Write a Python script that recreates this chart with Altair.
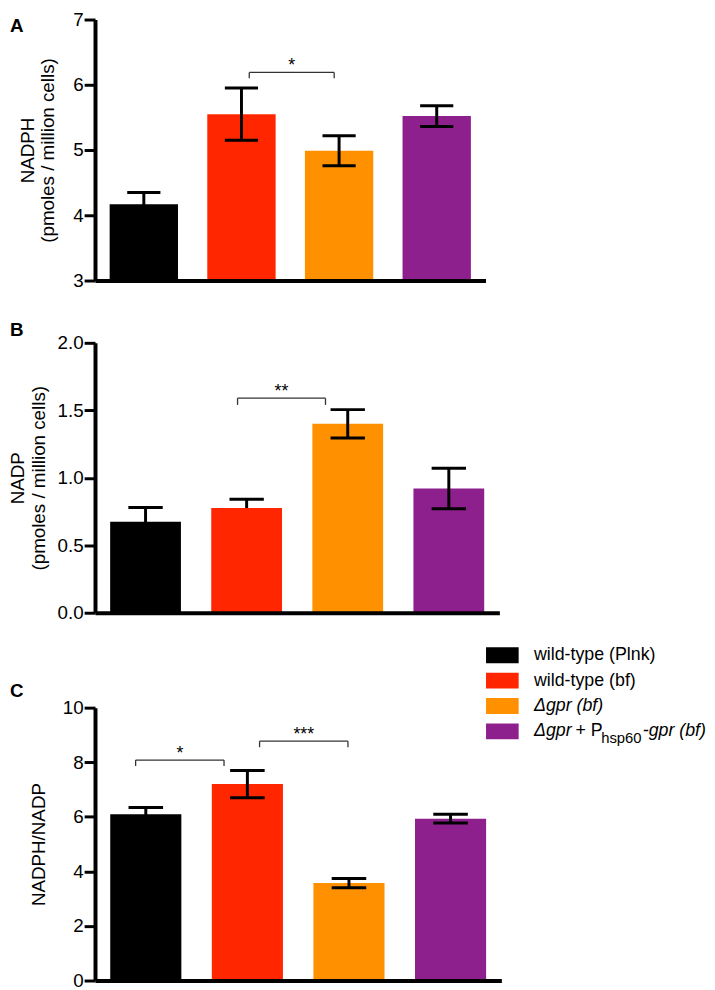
import altair as alt
import pandas as pd

FONT = "Liberation Sans"

groups = ["wild-type (Plnk)", "wild-type (bf)", "Δgpr (bf)", "Δgpr + Phsp60-gpr (bf)"]
bar_colors = ["#000000", "#FF2600", "#FF9100", "#8E208E"]

# Panel A - NADPH
nadph_mean = [4.17, 5.55, 4.99, 5.52]
nadph_err_up = [0.18, 0.40, 0.23, 0.16]
nadph_err_low = [0.18, 0.40, 0.23, 0.16]
nadph_ticks = [3, 4, 5, 6, 7]

# Panel B - NADP
nadp_mean = [0.675, 0.776, 1.40, 0.92]
nadp_err_up = [0.105, 0.065, 0.105, 0.15]
nadp_err_low = [0.105, 0.0, 0.105, 0.15]
nadp_ticks = [0.0, 0.5, 1.0, 1.5, 2.0]

# Panel C - NADPH/NADP
ratio_mean = [6.09, 7.20, 3.57, 5.93]
ratio_err_up = [0.25, 0.50, 0.17, 0.16]
ratio_err_low = [0.25, 0.50, 0.17, 0.16]
ratio_ticks = [0, 2, 4, 6, 8, 10]

# significance brackets (x in group-index units, y in data units)
a_br_start = [1.08]
a_br_end = [1.95]
a_br_top = [6.19]
a_br_tip = [6.10]
a_br_label = ["*"]

b_br_start = [0.91]
b_br_end = [1.78]
b_br_top = [1.59]
b_br_tip = [1.54]
b_br_label = ["**"]

c_br_start = [-0.10, 1.12]
c_br_end = [0.77, 1.99]
c_br_top = [8.08, 8.77]
c_br_tip = [7.86, 8.55]
c_br_label = ["*", "***"]

legend_plain = ["wild-type (Plnk)", "wild-type (bf)"]
legend_italic = ["Δgpr (bf)"]
legend_row4 = ["Δgpr", "+ P", "hsp60", "-gpr (bf)"]

LABEL_SIZE = 19
TITLE_SIZE = 19


def panel(means, up, low, ticks, fmt, title, title_pad, br, letter, letter_y):
    df = pd.DataFrame({"idx": list(range(4)), "group": groups,
                       "mean": means, "up": up, "low": low})
    xscale = alt.Scale(domain=[-0.5, 3.5], nice=False, zero=False)
    xaxis = alt.Axis(labels=False, ticks=False, grid=False, title=None,
                     domainColor="black", domainWidth=4, zindex=1)
    yscale = alt.Scale(domain=[ticks[0], ticks[-1]], nice=False, zero=False)
    yaxis = alt.Axis(values=ticks, format=fmt, title=title, titleFont=FONT,
                     titleFontSize=TITLE_SIZE, titleFontWeight="normal", titleColor="black",
                     titlePadding=title_pad, titleLineHeight=21,
                     labelFont=FONT, labelFontSize=LABEL_SIZE, labelColor="black",
                     labelPadding=1, tickSize=11, tickWidth=3, tickColor="black",
                     domainColor="black", domainWidth=4, grid=False, zindex=1)

    def X(f):
        return alt.X(f, scale=xscale, axis=xaxis)

    def Y(f):
        return alt.Y(f, scale=yscale, axis=yaxis)

    base = alt.Chart(df).transform_calculate(
        bx1="datum.idx - 0.35", bx2="datum.idx + 0.35",
        cx1="datum.idx - 0.17", cx2="datum.idx + 0.17",
        hi="datum.mean + datum.up", lo="datum.mean - datum.low",
        floor=str(ticks[0]),
    )
    bars = base.mark_bar().encode(
        x=X("bx1:Q"), x2="bx2:Q", y=Y("mean:Q"), y2="floor:Q",
        color=alt.Color("group:N", scale=alt.Scale(domain=groups, range=bar_colors), legend=None),
    )
    stem = base.mark_rule(color="black", strokeWidth=3).encode(
        x=X("idx:Q"), y=Y("lo:Q"), y2="hi:Q")
    cap_hi = base.mark_rule(color="black", strokeWidth=3).encode(
        x=X("cx1:Q"), x2="cx2:Q", y=Y("hi:Q"))
    cap_lo = base.transform_filter("datum.low > 0").mark_rule(color="black", strokeWidth=3).encode(
        x=X("cx1:Q"), x2="cx2:Q", y=Y("lo:Q"))

    bdf = pd.DataFrame({"start": br[0], "end": br[1], "top": br[2], "tip": br[3], "label": br[4]})
    bbase = alt.Chart(bdf).transform_calculate(mid="(datum.start + datum.end) / 2")
    bcol = "#333333"
    b_h = bbase.mark_rule(color=bcol, strokeWidth=1.3).encode(x=X("start:Q"), x2="end:Q", y=Y("top:Q"))
    b_l = bbase.mark_rule(color=bcol, strokeWidth=1.3).encode(x=X("start:Q"), y=Y("tip:Q"), y2="top:Q")
    b_r = bbase.mark_rule(color=bcol, strokeWidth=1.3).encode(x=X("end:Q"), y=Y("tip:Q"), y2="top:Q")
    b_t = bbase.mark_text(font=FONT, fontSize=18, color="black", baseline="alphabetic", dy=-1).encode(
        x=X("mid:Q"), y=Y("top:Q"), text="label:N")

    let = alt.Chart(pd.DataFrame({"letter": [letter]})).mark_text(
        font=FONT, fontSize=19, fontWeight="bold", align="left", baseline="alphabetic", color="black"
    ).encode(text="letter:N", x=alt.value(-86), y=alt.value(letter_y))

    return alt.layer(bars, stem, cap_hi, cap_lo, b_h, b_l, b_r, b_t, let)


A = panel(nadph_mean, nadph_err_up, nadph_err_low, nadph_ticks, "d",
          ["NADPH", "(pmoles / million cells)"], 15,
          (a_br_start, a_br_end, a_br_top, a_br_tip, a_br_label), "A", 13).properties(width=395, height=264)

B = panel(nadp_mean, nadp_err_up, nadp_err_low, nadp_ticks, ".1f",
          ["NADP", "(pmoles / million cells)"], 9,
          (b_br_start, b_br_end, b_br_top, b_br_tip, b_br_label), "B", -7).properties(width=409, height=273)

C_data = panel(ratio_mean, ratio_err_up, ratio_err_low, ratio_ticks, "d",
               "NADPH/NADP", 14,
               (c_br_start, c_br_end, c_br_top, c_br_tip, c_br_label), "C", -11)

# legend (drawn inside panel C's area)
leg_y = alt.Y("row:O", scale=alt.Scale(type="point", domain=[0, 1, 2, 3], range=[-53, 24], padding=0), axis=None)
leg_df = pd.DataFrame({"row": [0, 1, 2, 3], "group": groups})
swatch = alt.Chart(leg_df).mark_tick(orient="horizontal", thickness=16, size=33, opacity=1).encode(
    y=leg_y, x=alt.value(412),
    color=alt.Color("group:N", scale=alt.Scale(domain=groups, range=bar_colors), legend=None))

plain_df = pd.DataFrame({"row": [0, 1], "label": legend_plain})
t_plain = alt.Chart(plain_df).mark_text(font=FONT, fontSize=18, align="left", baseline="middle", color="black").encode(
    y=leg_y, x=alt.value(444), text="label:N")
ital_df = pd.DataFrame({"row": [2], "label": legend_italic})
t_ital = alt.Chart(ital_df).mark_text(font=FONT, fontSize=18, fontStyle="italic", align="left", baseline="middle", color="black").encode(
    y=leg_y, x=alt.value(444), text="label:N")


def seg(text, xpx, italic, size, dy):
    d = pd.DataFrame({"row": [3], "label": [text]})
    kw = dict(font=FONT, fontSize=size, align="left", baseline="middle", color="black", dy=dy)
    if italic:
        kw["fontStyle"] = "italic"
    return alt.Chart(d).mark_text(**kw).encode(y=leg_y, x=alt.value(xpx), text="label:N")


s1 = seg(legend_row4[0], 444, True, 18, 0)
s2 = seg(legend_row4[1], 486, False, 18, 0)
s3 = seg(legend_row4[2], 512, False, 15, 7)
s4 = seg(legend_row4[3], 554, True, 18, 0)

legend = alt.layer(swatch, t_plain, t_ital, s1, s2, s3, s4)

C = alt.layer(C_data, legend).resolve_scale(y="independent").properties(width=411, height=276)


def spacer(h):
    return alt.Chart(pd.DataFrame({"v": [0]})).mark_point(opacity=0).encode(
        x=alt.value(0), y=alt.value(0)).properties(width=10, height=h)


chart = alt.vconcat(A, spacer(1), B, spacer(34), C, spacing=31, bounds="flush").properties(
    padding={"left": 0, "top": -3, "right": 0, "bottom": 0}
).configure_view(stroke=None)

chart.save("out.html", embed_options={"renderer": "svg", "actions": False})
